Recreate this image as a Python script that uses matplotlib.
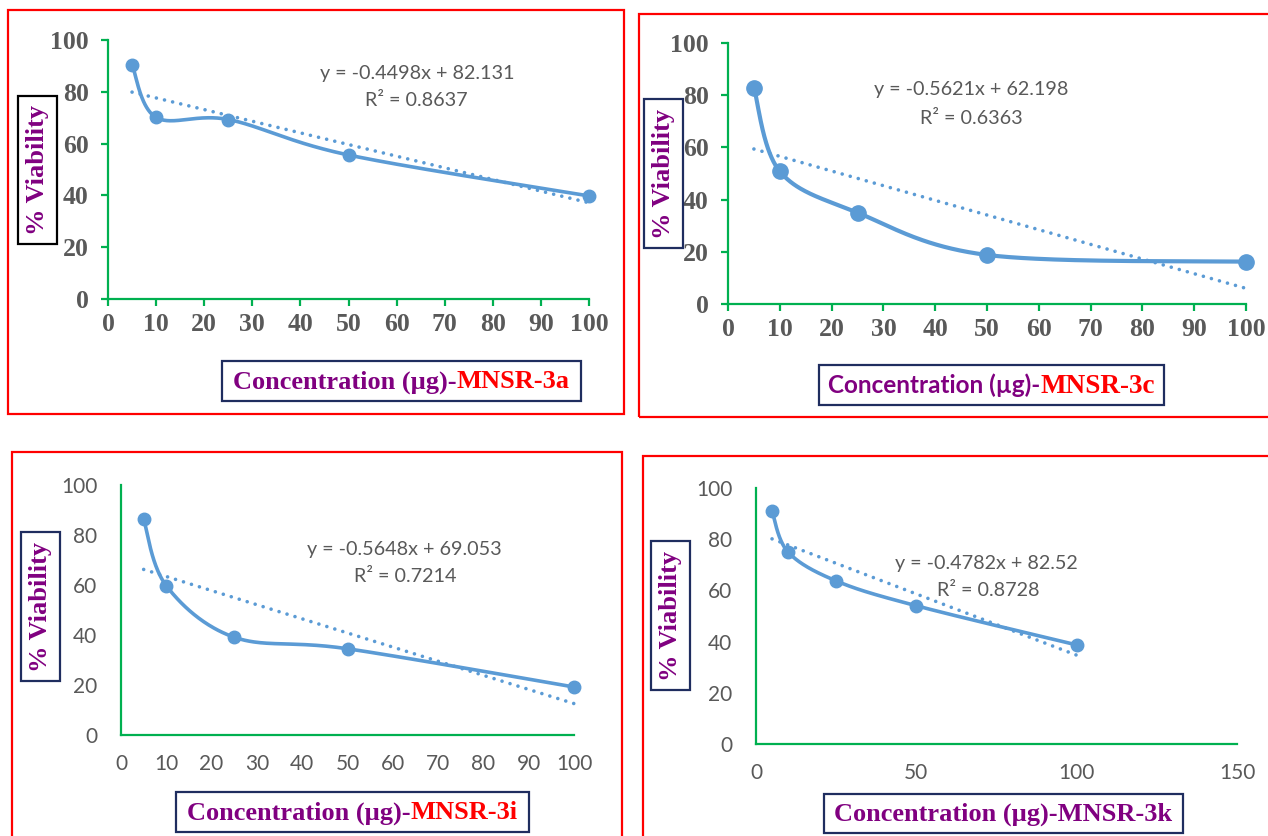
import numpy as np
import matplotlib
matplotlib.use("Agg")
import matplotlib.pyplot as plt
from matplotlib.patches import Rectangle
from matplotlib.offsetbox import TextArea, HPacker, AnnotationBbox

# concentrations (ug) and % viability
conc = [5, 10, 25, 50, 100]
via_3a = [90.5, 70.1, 69.3, 55.6, 39.8]
via_3c = [82.9, 50.8, 35.0, 18.8, 16.2]
via_3i = [86.3, 59.7, 39.1, 34.5, 19.2]
via_3k = [91.0, 75.0, 63.7, 54.0, 38.7]

# Excel linear trendlines (slope, intercept, R^2)
fit_3a = (-0.4498, 82.131, 0.8637)
fit_3c = (-0.5621, 62.198, 0.6363)
fit_3i = (-0.5648, 69.053, 0.7214)
fit_3k = (-0.4782, 82.52, 0.8728)

ticks_10 = list(range(0, 101, 10))
ticks_50 = [0, 50, 100, 150]
y_ticks = list(range(0, 101, 20))

W, H = 1268, 836
BLUE = "#5B9BD5"
GREEN = "#00B050"
GREY = "#595959"
PURPLE = "#800080"
RED = "#FF0000"
NAVY = "#1F2D5F"
SERIF = "Liberation Serif"
SANS = "Lato"


def fx(px):
    return px / W


def fy(py):
    return 1 - py / H


def smooth(xs, ys, n=60):
    # catmull-rom style bezier, like Excel's smoothed line
    pts = np.column_stack([xs, ys]).astype(float)
    P = np.vstack([pts[0], pts, pts[-1]])
    t = np.linspace(0, 1, n)[:, None]
    out = []
    for i in range(1, len(P) - 2):
        p0, p1, p2, p3 = P[i - 1], P[i], P[i + 1], P[i + 2]
        c1 = p1 + (p2 - p0) / 6
        c2 = p2 - (p3 - p1) / 6
        out.append((1 - t) ** 3 * p1 + 3 * (1 - t) ** 2 * t * c1
                   + 3 * (1 - t) * t ** 2 * c2 + t ** 3 * p2)
    out = np.vstack(out)
    return out[:, 0], out[:, 1]


def rect_px(x0, y0, x1, y1, color, lw):
    r = Rectangle((fx(x0), fy(y1)), (x1 - x0) / W, (y1 - y0) / H,
                  transform=fig.transFigure, fill=False, ec=color, lw=lw)
    fig.add_artist(r)


def panel(box, vals, fit, xticks, xmax, bold_ticks, ms, lw, eq_pos):
    left, top, right, bottom = box
    ax = fig.add_axes([fx(left), fy(bottom), (right - left) / W, (bottom - top) / H])
    ax.set_xlim(0, xmax)
    ax.set_ylim(0, 100)
    for s in ["top", "right"]:
        ax.spines[s].set_visible(False)
    for s in ["left", "bottom"]:
        ax.spines[s].set_color(GREEN)
        ax.spines[s].set_linewidth(1.6)
    ax.set_xticks(xticks)
    ax.set_yticks(y_ticks)
    if bold_ticks:
        ax.tick_params(direction="out", length=5, width=1.6, color=GREEN,
                       labelcolor=GREY, labelsize=18.5)
        ax.tick_params(axis="x", pad=5)
        ax.tick_params(axis="y", pad=9)
        for lab in ax.get_xticklabels() + ax.get_yticklabels():
            lab.set_fontfamily(SERIF)
            lab.set_fontweight("bold")
    else:
        ax.tick_params(length=0, labelcolor=GREY, labelsize=15)
        ax.tick_params(axis="x", pad=14)
        ax.tick_params(axis="y", pad=17)
        for lab in ax.get_xticklabels() + ax.get_yticklabels():
            lab.set_fontfamily(SANS)
    ax.patch.set_alpha(0)

    sx, sy = smooth(conc, vals)
    ax.plot(sx, sy, color=BLUE, lw=lw, solid_capstyle="round", clip_on=False, zorder=3)
    ax.plot(conc, vals, "o", color=BLUE, ms=ms, clip_on=False, zorder=4)
    m, b, r2 = fit
    tx = np.array([conc[0], conc[-1]])
    ax.plot(tx, m * tx + b, color=BLUE, lw=2.6, linestyle=(0, (0.01, 2.3)),
            dash_capstyle="round", clip_on=False, zorder=2)

    (ex, ey), (rx, ry) = eq_pos
    fig.text(fx(ex), fy(ey), "y = %gx + %g" % (m, b), ha="center", va="center",
             fontsize=14.2, color=GREY, family=SANS)
    fig.text(fx(rx), fy(ry), "R² = %g" % r2, ha="center", va="center",
             fontsize=14.2, color=GREY, family=SANS)
    return ax


def ylabel_box(x0, y0, x1, y1, edge):
    rect_px(x0, y0, x1, y1, edge, 1.6)
    fig.text(fx((x0 + x1) / 2), fy((y0 + y1) / 2), "% Viability", rotation=90,
             ha="center", va="center", fontsize=19, fontweight="bold",
             color=PURPLE, family=SERIF)


def xlabel_box(x0, y0, x1, y1, parts):
    rect_px(x0, y0, x1, y1, NAVY, 1.6)
    areas = [TextArea(txt, textprops=dict(color=c, fontsize=sz, fontweight="bold", family=fam))
             for txt, c, fam, sz in parts]
    pack = HPacker(children=areas, pad=0, sep=0, align="baseline")
    ab = AnnotationBbox(pack, (fx((x0 + x1) / 2), fy((y0 + y1) / 2 + 1)),
                        xycoords="figure fraction", frameon=False, box_alignment=(0.5, 0.5))
    fig.add_artist(ab)


fig = plt.figure(figsize=(W / 100, H / 100), dpi=100)
fig.patch.set_facecolor("white")

# red frames round each chart
rect_px(8, 10, 624, 414, RED, 1.6)
rect_px(639, 14, 1275, 417, RED, 1.6)
rect_px(12, 452, 622, 845, RED, 1.6)
rect_px(643, 456, 1275, 845, RED, 1.6)

panel((108, 40, 589, 299), via_3a, fit_3a, ticks_10, 100, True, 9, 2.6,
      ((417, 73), (416, 101)))
panel((728, 43, 1246, 304), via_3c, fit_3c, ticks_10, 100, True, 11, 3.0,
      ((971, 90), (971, 119)))
panel((121, 485, 574, 735), via_3i, fit_3i, ticks_10, 100, False, 9, 2.6,
      ((404, 549), (405, 577)))
panel((756, 488, 1237, 744), via_3k, fit_3k, ticks_50, 150, False, 9, 2.6,
      ((986, 563), (988, 591)))

ylabel_box(18, 96, 57, 244, "black")
ylabel_box(644, 99, 683, 248, NAVY)
ylabel_box(21, 532, 60, 681, NAVY)
ylabel_box(651, 541, 690, 690, NAVY)

xlabel_box(222, 361, 581, 401, [("Concentration (µg)-", PURPLE, SERIF, 19),
                                ("MNSR-3a", RED, SERIF, 19)])
xlabel_box(819, 365, 1164, 405, [("Concentration (µg)-", PURPLE, SANS, 17.5),
                                 ("MNSR-3c", RED, SERIF, 19.5)])
xlabel_box(176, 792, 529, 832, [("Concentration (µg)-", PURPLE, SERIF, 19),
                                ("MNSR-3i", RED, SERIF, 19)])
xlabel_box(824, 794, 1183, 833, [("Concentration (µg)-MNSR-3k", PURPLE, SERIF, 19)])

fig.savefig("out.png", dpi=100)
